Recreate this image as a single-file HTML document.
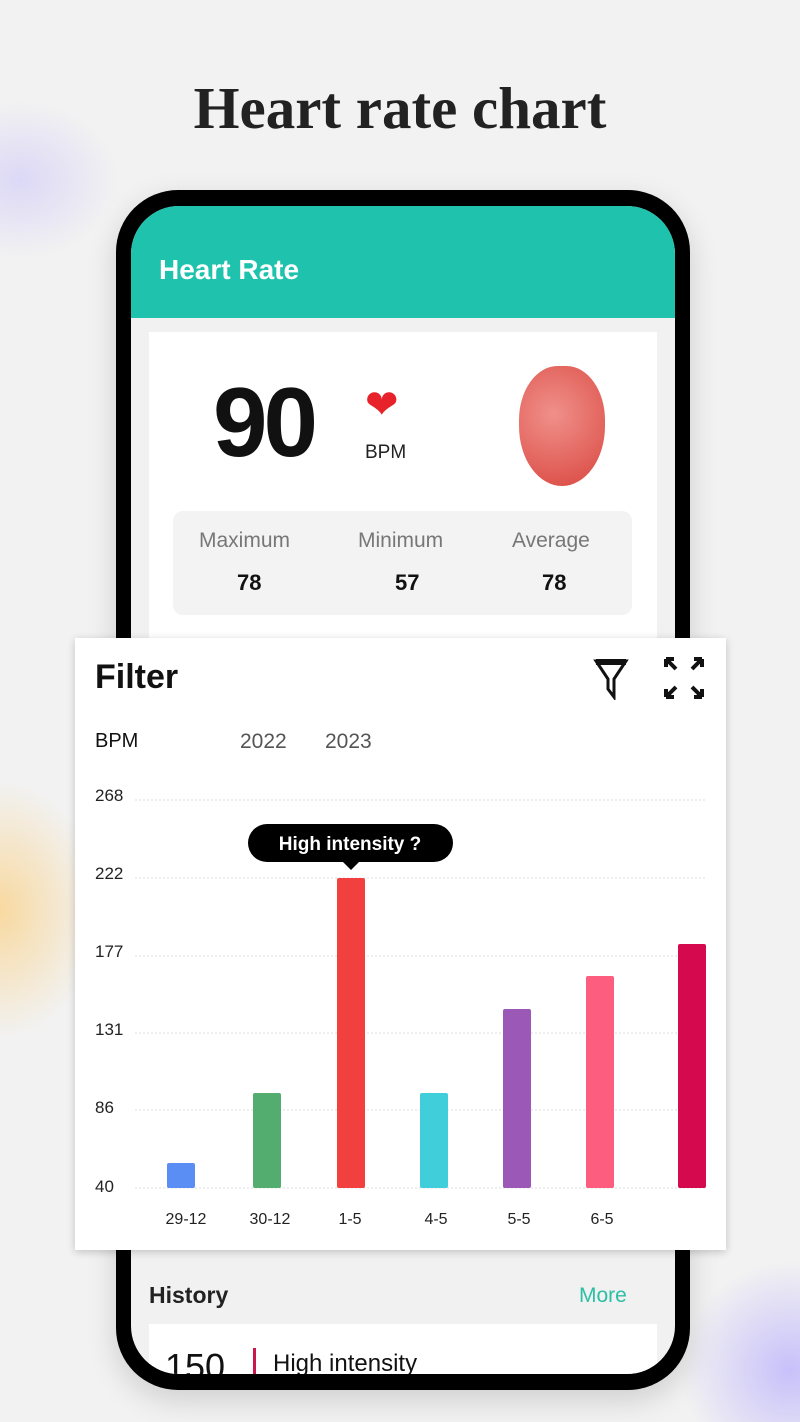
<!DOCTYPE html>
<html><head><meta charset="utf-8"><style>
html,body{margin:0;width:800px;height:1422px;overflow:hidden}
body{background:#f2f2f2;font-family:"Liberation Sans",sans-serif;position:relative}
.a{position:absolute}
</style></head><body>
<div class="a" style="left:-80px;top:100px;width:200px;height:160px;border-radius:50%;background:radial-gradient(#dcd8f6,transparent 70%)"></div>
<div class="a" style="left:-100px;top:780px;width:200px;height:260px;border-radius:50%;background:radial-gradient(#f8d9a0,transparent 70%)"></div>
<div class="a" style="left:680px;top:1260px;width:220px;height:220px;border-radius:50%;background:radial-gradient(#c8c0fa,transparent 70%)"></div>
<div class="a" style="left:0;top:74px;width:800px;text-align:center;font-family:'Liberation Serif',serif;font-weight:bold;font-size:59px;color:#222">Heart rate chart</div>
<div class="a" style="left:116px;top:190px;width:574px;height:1200px;background:#000;border-radius:62px;box-shadow:0 10px 30px rgba(0,0,0,.15)"></div>
<div class="a" style="left:131px;top:206px;width:544px;height:1168px;background:#f1f1f1;border-radius:48px;overflow:hidden">
 <div class="a" style="left:0;top:0;width:544px;height:112px;background:#1fc3ad"></div>
 <div class="a" style="left:28px;top:48px;color:#fff;font-weight:bold;font-size:28px">Heart Rate</div>
 <div class="a" style="left:18px;top:126px;width:508px;height:320px;background:#fff"></div>
 <div class="a" style="left:82px;top:160px;font-size:98px;font-weight:bold;letter-spacing:-4px;color:#111">90</div>
 <div class="a" style="left:234px;top:176px;font-size:40px;color:#e8222a">❤</div>
 <div class="a" style="left:234px;top:236px;font-size:19px;color:#222">BPM</div>
 <div class="a" style="left:388px;top:160px;width:86px;height:120px;border-radius:45% 45% 50% 50%;background:radial-gradient(circle at 40% 40%,#f0908a,#d9463f)"></div>
 <div class="a" style="left:42px;top:305px;width:459px;height:104px;background:#f3f3f3;border-radius:10px"></div>
 <div class="a" style="left:68px;top:323px;font-size:21px;color:#777">Maximum</div>
 <div class="a" style="left:227px;top:323px;font-size:21px;color:#777">Minimum</div>
 <div class="a" style="left:381px;top:323px;font-size:21px;color:#777">Average</div>
 <div class="a" style="left:106px;top:364px;font-size:22px;font-weight:bold;color:#111">78</div>
 <div class="a" style="left:264px;top:364px;font-size:22px;font-weight:bold;color:#111">57</div>
 <div class="a" style="left:411px;top:364px;font-size:22px;font-weight:bold;color:#111">78</div>
 <div class="a" style="left:18px;top:1076px;font-size:23px;font-weight:bold;color:#222">History</div>
 <div class="a" style="left:448px;top:1078px;font-size:21px;color:#2bbfa5">More</div>
 <div class="a" style="left:18px;top:1118px;width:508px;height:80px;background:#fff"></div>
 <div class="a" style="left:34px;top:1140px;font-size:36px;color:#111">150</div>
 <div class="a" style="left:122px;top:1142px;width:3px;height:40px;background:#c8184e"></div>
 <div class="a" style="left:142px;top:1144px;font-size:24px;color:#111">High intensity</div>
</div>
<div class="a" style="left:75px;top:638px;width:651px;height:612px;background:#fff;box-shadow:0 2px 8px rgba(0,0,0,.2)"></div>
<div class="a" style="left:95px;top:658px;font-size:34px;font-weight:bold;color:#111">Filter</div>
<svg class="a" style="left:590px;top:655px" width="120" height="45" viewBox="0 0 120 45">
<path d="M6 6h30l-12 18v18l-6-8v-10z" fill="none" stroke="#111" stroke-width="3"/><rect x="6" y="4" width="30" height="6" fill="#111"/>
<g stroke="#111" stroke-width="4" fill="none"><path d="M78 6l8 8M76 4v8M76 4h8M110 6l-8 8M112 4v8M112 4h-8M78 40l8-8M76 42v-8M76 42h8M110 40l-8-8M112 42v-8M112 42h-8"/></g></svg>
<div class="a" style="left:95px;top:730px;font-size:20px;color:#111">BPM</div>
<div class="a" style="left:240px;top:730px;font-size:21px;color:#555">2022</div>
<div class="a" style="left:325px;top:730px;font-size:21px;color:#555">2023</div>
<svg class="a" style="left:0;top:0" width="800" height="1422" font-family="Liberation Sans" font-size="17" fill="#222">
<g stroke="#ddd" stroke-dasharray="2 2"><line x1="135" x2="706" y1="800" y2="800"/><line x1="135" x2="706" y1="878" y2="878"/><line x1="135" x2="706" y1="956" y2="956"/><line x1="135" x2="706" y1="1033" y2="1033"/><line x1="135" x2="706" y1="1110" y2="1110"/><line x1="135" x2="706" y1="1188" y2="1188"/></g>
<text x="95" y="801">268</text><text x="95" y="879">222</text><text x="95" y="957">177</text><text x="95" y="1035">131</text><text x="95" y="1113">86</text><text x="95" y="1192">40</text>
<rect x="167" y="1163" width="28" height="25" rx="2" fill="#5b8ef5"/>
<rect x="253" y="1093" width="28" height="95" rx="2" fill="#53ad6e"/>
<rect x="337" y="878" width="28" height="310" rx="2" fill="#f2403f"/>
<rect x="420" y="1093" width="28" height="95" rx="2" fill="#41cedb"/>
<rect x="503" y="1009" width="28" height="179" rx="2" fill="#9c58b6"/>
<rect x="586" y="976" width="28" height="212" rx="2" fill="#fd5e7f"/>
<rect x="678" y="944" width="28" height="244" rx="2" fill="#d50a4e"/>
<g font-size="16" text-anchor="middle"><text x="186" y="1224">29-12</text><text x="270" y="1224">30-12</text><text x="350" y="1224">1-5</text><text x="436" y="1224">4-5</text><text x="519" y="1224">5-5</text><text x="602" y="1224">6-5</text></g>
<rect x="248" y="824" width="205" height="38" rx="19" fill="#000"/><path d="M342 861l9 9 9-9z" fill="#000"/>
<text x="350" y="850" text-anchor="middle" fill="#fff" font-weight="bold" font-size="19">High intensity ?</text>
</svg>
</body></html>
